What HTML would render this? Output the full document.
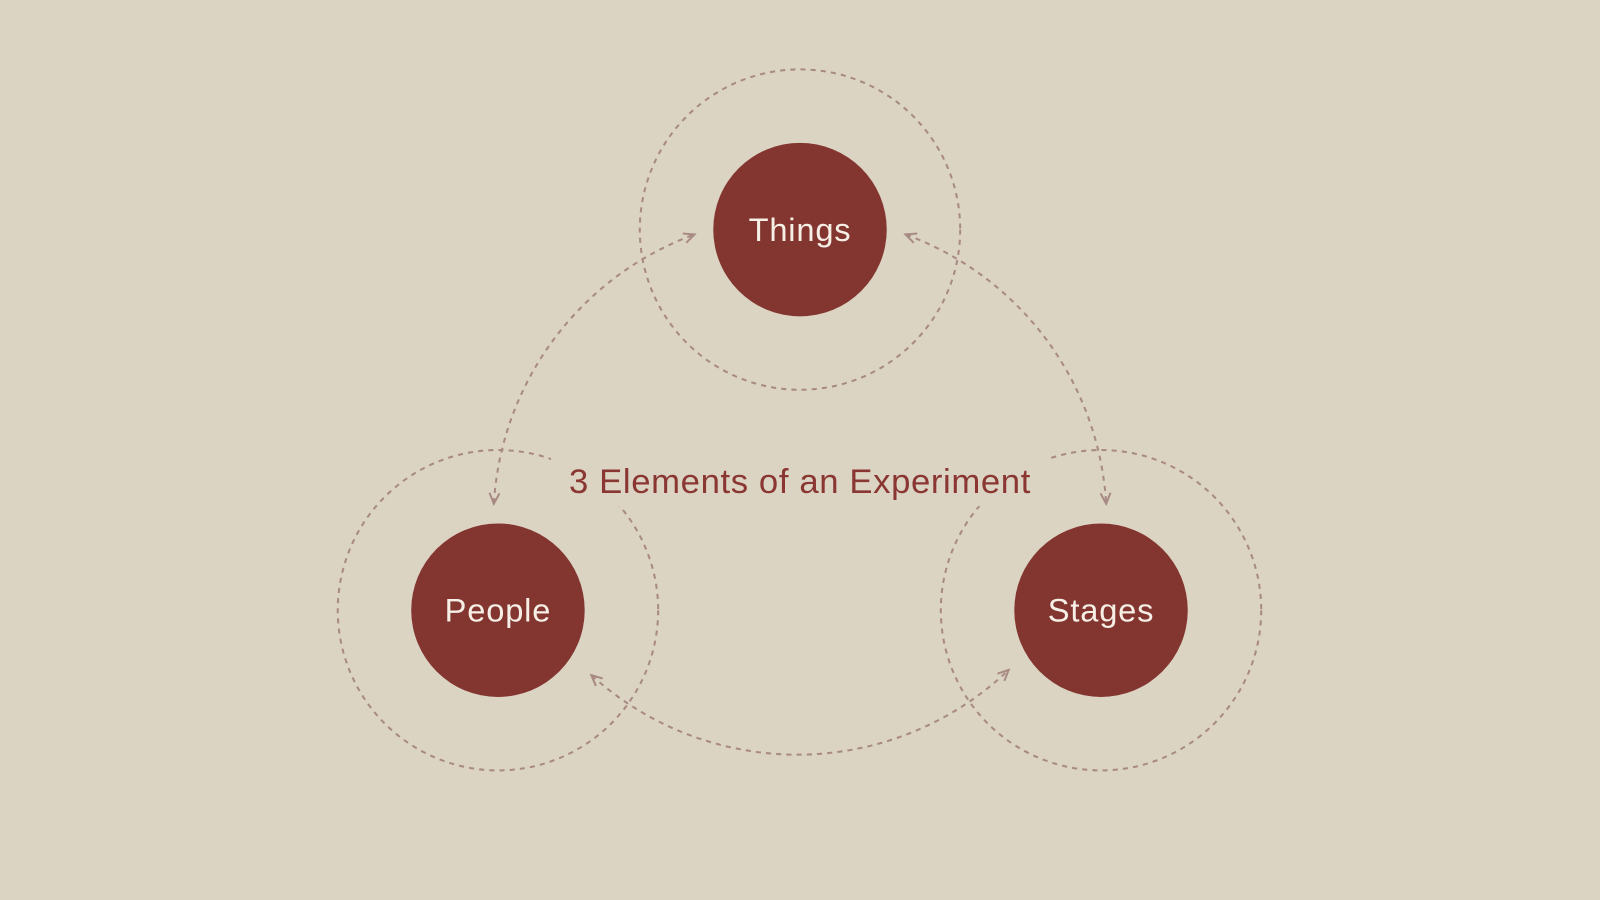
<!DOCTYPE html>
<html><head><meta charset="utf-8"><style>
html,body{margin:0;padding:0;background:#dcd4c3;}
svg{display:block;}
</style></head><body>
<svg width="1600" height="900" viewBox="0 0 1568 882" xmlns="http://www.w3.org/2000/svg">
<defs>
<marker id="a" viewBox="0 0 10 10" refX="8" refY="5" markerWidth="14" markerHeight="14" orient="auto-start-reverse" markerUnits="userSpaceOnUse">
<path d="M1,1.5 L8.5,5 L1,8.5" fill="none" stroke="#a88a84" stroke-width="1.4"/>
</marker>
</defs>
<rect width="1568" height="882" fill="#dcd4c3"/>
<g fill="none" stroke="#a88a84" stroke-width="2" stroke-dasharray="5 5">
<circle cx="784" cy="225" r="157"/>
<circle cx="488" cy="598" r="157"/>
<circle cx="1079" cy="598" r="157"/>
<path d="M484,493 A300,300 0 0 1 680,230" marker-start="url(#a)" marker-end="url(#a)"/>
<path d="M888,230 A300,300 0 0 1 1084,493" marker-start="url(#a)" marker-end="url(#a)"/>
<path d="M580,662 A300,300 0 0 0 988,657" marker-start="url(#a)" marker-end="url(#a)"/>
</g>
<rect x="540" y="448" width="488" height="48" fill="#dcd4c3"/>
<text x="784" y="483" text-anchor="middle" font-family="Liberation Sans, sans-serif" font-size="34" letter-spacing="0.6" fill="#8a3632">3 Elements of an Experiment</text>
<circle cx="784" cy="225" r="85" fill="#833530"/>
<circle cx="488" cy="598" r="85" fill="#833530"/>
<circle cx="1079" cy="598" r="85" fill="#833530"/>
<g font-family="Liberation Sans, sans-serif" font-size="32" letter-spacing="0.8" fill="#f6efe6" text-anchor="middle">
<text x="784" y="236">Things</text>
<text x="488" y="609">People</text>
<text x="1079" y="609">Stages</text>
</g>
</svg>
</body></html>
